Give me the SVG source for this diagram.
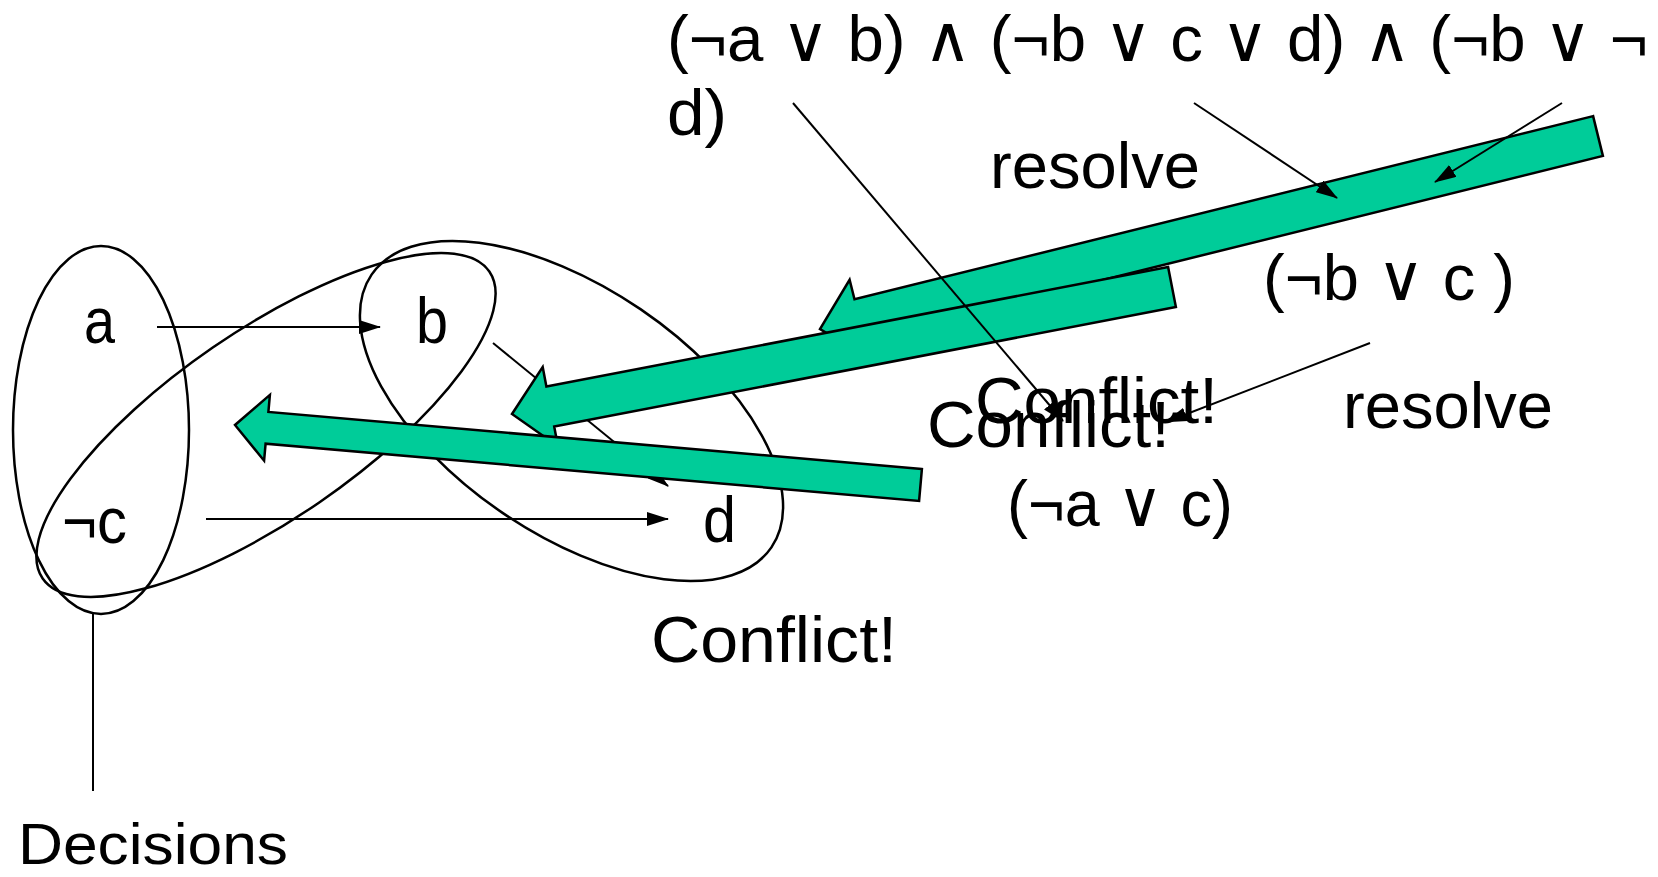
<svg xmlns="http://www.w3.org/2000/svg" width="1658" height="877" viewBox="0 0 1658 877">
<defs>
<style>
.t{font-family:"Liberation Sans","DejaVu Sans",sans-serif;font-size:64px;fill:#000}
.ell{fill:none;stroke:#000;stroke-width:2.5}
.ln{fill:none;stroke:#000;stroke-width:2}
.big{fill:#00CC99;stroke:#000;stroke-width:2.5;stroke-linejoin:miter}
</style>
<marker id="ah" markerWidth="22" markerHeight="14" refX="21" refY="7" orient="auto" markerUnits="userSpaceOnUse">
<path d="M0,0 L22,7 L0,14 z" fill="#000"/>
</marker>
</defs>
<rect width="1658" height="877" fill="#fff"/>

<g id="decision-sets">
<ellipse id="set-decisions" class="ell" cx="101" cy="430" rx="88" ry="184"/>
<ellipse id="set-cb" class="ell" cx="266" cy="425" rx="271" ry="94" transform="rotate(-34.5 266 425)"/>
<ellipse id="set-bd" class="ell" cx="571.5" cy="411" rx="242" ry="123" transform="rotate(34.3 571.5 411)"/>
</g>

<g id="implications">
<line class="ln" x1="157" y1="327" x2="380" y2="327" marker-end="url(#ah)"/>
<line class="ln" x1="206" y1="519" x2="668" y2="519" marker-end="url(#ah)"/>
<line class="ln" x1="493" y1="343" x2="668" y2="486" marker-end="url(#ah)"/>
<line class="ln" x1="93" y1="613" x2="93" y2="791"/>
</g>

<g id="resolve-arrows">
<polygon id="arrow-top" class="big" points="1593.1,116.1 854.5,299.3 849.6,279.8 820,329 869.2,358.6 864.3,339.1 1602.9,155.9"/>
<polygon id="arrow-mid" class="big" points="1168.1,267 546.4,386.6 542.7,367 512,414 557.9,446.2 554.2,426.6 1175.9,307"/>
<polygon id="arrow-low" class="big" points="921.9,469.1 268.4,411.9 269.9,394.9 235,425 264.1,460.7 265.6,443.7 919.1,500.9"/>
</g>

<g id="connectors">
<line class="ln" x1="793" y1="103" x2="1063" y2="421" marker-end="url(#ah)"/>
<line class="ln" x1="1194" y1="103" x2="1337" y2="198" marker-end="url(#ah)"/>
<line class="ln" x1="1562" y1="103" x2="1435" y2="182" marker-end="url(#ah)"/>
<line class="ln" x1="1370" y1="343" x2="1166" y2="422" marker-end="url(#ah)"/>
</g>

<g id="node-a"><text class="t" x="84" y="343" textLength="31" lengthAdjust="spacingAndGlyphs">a</text></g>
<g id="node-b"><text class="t" x="416" y="343" textLength="32" lengthAdjust="spacingAndGlyphs">b</text></g>
<g id="node-notc"><text class="t" x="62" y="543" textLength="65" lengthAdjust="spacingAndGlyphs">¬c</text></g>
<g id="node-d"><text class="t" x="703" y="542" textLength="33" lengthAdjust="spacingAndGlyphs">d</text></g>

<g id="formula">
<text class="t" x="667" y="61" textLength="981" lengthAdjust="spacingAndGlyphs">(¬a ∨ b) ∧ (¬b ∨ c ∨ d) ∧ (¬b ∨ ¬</text>
<text class="t" x="667" y="135" textLength="60" lengthAdjust="spacingAndGlyphs">d)</text>
</g>
<g id="label-resolve1"><text class="t" x="990" y="188" textLength="210" lengthAdjust="spacingAndGlyphs">resolve</text></g>
<g id="label-clause-bc"><text class="t" x="1263" y="300" textLength="252" lengthAdjust="spacingAndGlyphs">(¬b ∨ c )</text></g>
<g id="label-resolve2"><text class="t" x="1343" y="428" textLength="210" lengthAdjust="spacingAndGlyphs">resolve</text></g>
<g id="label-conflict-upper"><text class="t" x="975" y="423" textLength="243" lengthAdjust="spacingAndGlyphs">Conflict!</text></g>
<g id="label-conflict-lower"><text class="t" x="927" y="447" textLength="243" lengthAdjust="spacingAndGlyphs">Conflict!</text></g>
<g id="label-clause-ac"><text class="t" x="1007" y="526" textLength="226" lengthAdjust="spacingAndGlyphs">(¬a ∨ c)</text></g>
<g id="label-conflict-bottom"><text class="t" x="651" y="662" textLength="246" lengthAdjust="spacingAndGlyphs">Conflict!</text></g>
<g id="label-decisions"><text class="t" x="18" y="864" style="font-size:58px" textLength="270" lengthAdjust="spacingAndGlyphs">Decisions</text></g>
</svg>
